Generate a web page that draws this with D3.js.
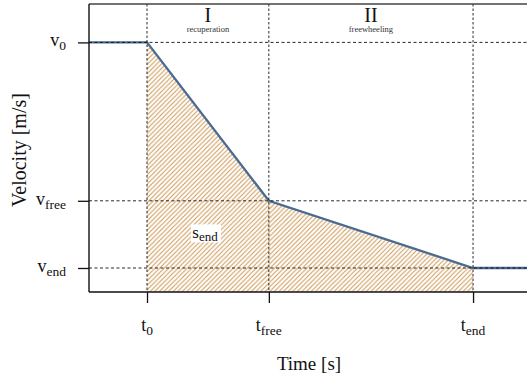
<!DOCTYPE html>
<html>
<head>
<meta charset="utf-8">
<script src="https://cdn.jsdelivr.net/npm/d3@7"></script>
<style>
body { margin: 0; background: #fff; }
</style>
</head>
<body>
<svg width="527" height="380"></svg>
<script>
// velocity profile (arbitrary units)
var times = [0, 1, 3.1, 6.62, 7.6];
var velocities = [10.4, 10.4, 3.8, 1.0, 1.0];
var tickTimes = [1, 3.1, 6.62];
var tickTimeNames = [["t", "0"], ["t", "free"], ["t", "end"]];
var tickVels = [10.4, 3.8, 1.0];
var tickVelNames = [["v", "0"], ["v", "free"], ["v", "end"]];
var phases = [["I", "recuperation", 1, 3.1], ["II", "freewheeling", 3.1, 6.62]];

var FONT = "'Liberation Serif'";
var canvas = d3.select("svg");
var margin = {left: 89, top: 4, bottom: 292};

var x = d3.scaleLinear().domain([0, 7.55]).range([margin.left, 527]);
var y = d3.scaleLinear().domain([0, 12]).range([margin.bottom, margin.top]);

var addText = function(sel, size) {
	return sel.append("text").attr("font-size", size).attr("fill", "#111").style("font-family", FONT);
}

var defs = canvas.append("defs");
defs.append("pattern")
	.attr("id", "hatch")
	.attr("patternUnits", "userSpaceOnUse")
	.attr("width", 4.6)
	.attr("height", 4.6)
	.append("path")
	.attr("d", "M-1,1 l2,-2 M0,4.6 l4.6,-4.6 M3.6,5.6 l2,-2")
	.attr("stroke", "#cf9c5a")
	.attr("stroke-width", 1.1);

var pts = times.map(function(t, i) { return [t, velocities[i]]; });

// hatched area between t0 and tend
var areaPts = pts.filter(function(d) { return d[0] >= 1 && d[0] <= 6.62; });
canvas.append("path")
	.datum(areaPts)
	.attr("d", d3.area().x(function(d) { return x(d[0]); }).y0(y(0)).y1(function(d) { return y(d[1]); }))
	.attr("fill", "url(#hatch)");

// velocity line
canvas.append("path")
	.datum(pts)
	.attr("d", d3.line().x(function(d) { return x(d[0]); }).y(function(d) { return y(d[1]); }))
	.attr("fill", "none")
	.attr("stroke", "#4a6a92")
	.attr("stroke-width", 2.3);

// dashed guides
canvas.selectAll(".vgrid").data(tickTimes).enter().append("line")
	.attr("x1", function(d) { return x(d); }).attr("x2", function(d) { return x(d); })
	.attr("y1", margin.top).attr("y2", margin.bottom)
	.attr("stroke", "#111").attr("stroke-width", 0.9).attr("stroke-dasharray", "2.5,2");
canvas.selectAll(".hgrid").data(tickVels).enter().append("line")
	.attr("x1", margin.left).attr("x2", 527)
	.attr("y1", function(d) { return y(d); }).attr("y2", function(d) { return y(d); })
	.attr("stroke", "#111").attr("stroke-width", 0.9).attr("stroke-dasharray", "3,2.5");

// s_end label with white box
var sg = canvas.append("g").attr("transform", "translate(" + x(2.0) + "," + y(2.4) + ")");
sg.append("rect").attr("x", -14).attr("y", -10).attr("width", 30).attr("height", 18).attr("fill", "#fff");
var st = addText(sg, 17).attr("text-anchor", "middle").attr("y", 4);
st.append("tspan").text("s");
st.append("tspan").attr("font-size", 13).attr("dy", 3).text("end");

// frame
canvas.append("line").attr("x1", margin.left).attr("x2", 527).attr("y1", margin.top).attr("y2", margin.top)
	.attr("stroke", "#444").attr("stroke-width", 1.6);

var xAxis = canvas.append("g")
	.attr("transform", "translate(0," + margin.bottom + ")")
	.call(d3.axisBottom(x).tickValues(tickTimes).tickSize(11).tickFormat(""));
var yAxis = canvas.append("g")
	.attr("transform", "translate(" + margin.left + ",0)")
	.call(d3.axisLeft(y).tickValues(tickVels).tickSize(11).tickFormat(""));
[xAxis, yAxis].forEach(function(a) {
	a.select(".domain").attr("stroke", "#111").attr("stroke-width", 1.4).attr("d",
		a === xAxis ? "M" + margin.left + ",0H527" : "M0," + margin.top + "V" + margin.bottom);
	a.selectAll(".tick line").attr("stroke", "#111").attr("stroke-width", 1.3);
});

// tick labels with subscripts
tickTimes.forEach(function(t, i) {
	var tx = addText(canvas, 18).attr("x", x(t)).attr("y", 331).attr("text-anchor", "middle");
	tx.append("tspan").text(tickTimeNames[i][0]);
	tx.append("tspan").attr("font-size", 13.5).attr("dy", 4).text(tickTimeNames[i][1]);
});
tickVels.forEach(function(v, i) {
	var ty = addText(canvas, 18).attr("x", 66).attr("y", y(v) + 4).attr("text-anchor", "end");
	ty.append("tspan").text(tickVelNames[i][0]);
	ty.append("tspan").attr("font-size", 13.5).attr("dy", 4).text(tickVelNames[i][1]);
});

// phase labels
phases.forEach(function(p) {
	var cx = (x(p[2]) + x(p[3])) / 2;
	addText(canvas, 20).attr("x", cx).attr("y", 22).attr("text-anchor", "middle").text(p[0]);
	addText(canvas, 8.5).attr("x", cx).attr("y", 32).attr("text-anchor", "middle").attr("fill", "#333").text(p[1]);
});

// axis titles
addText(canvas, 19).attr("x", 309).attr("y", 370).attr("text-anchor", "middle")
	.text("Time [s]");
addText(canvas, 20).attr("transform", "translate(26,150) rotate(-90)").attr("text-anchor", "middle")
	.text("Velocity [m/s]");
</script>
</body>
</html>
